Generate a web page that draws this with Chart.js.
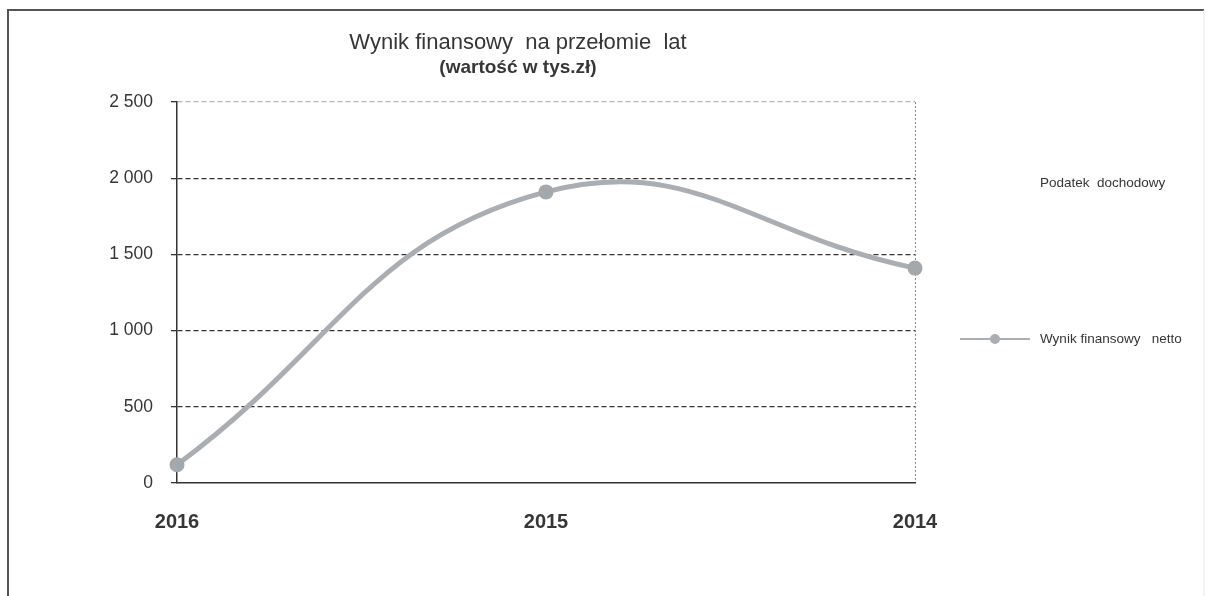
<!DOCTYPE html>
<html>
<head>
<meta charset="utf-8">
<script src="https://cdn.jsdelivr.net/npm/chart.js@4/dist/chart.umd.min.js"></script>
<style>
html, body { margin: 0; padding: 0; background: #fff; }
#wrap { width: 1207px; height: 596px; }
</style>
</head>
<body>
<div id="wrap"><canvas id="chart"></canvas></div>
<script>
const years = ["2016", "2015", "2014"];
const netResult = [120, 1910, 1410];
const incomeTax = [null, null, null];
const yTickValues = [0, 500, 1000, 1500, 2000, 2500];
const titleText = "Wynik finansowy  na przełomie  lat";
const subtitleText = "(wartość w tys.zł)";
const seriesNames = ["Podatek  dochodowy", "Wynik finansowy   netto"];

const lineGray = "#a9aeb2";
const textDark = "#363636";

function formatThousands(v) {
    return String(v).replace(/\B(?=(\d{3})+(?!\d))/g, " ");
}

// frame, titles and the legend on the right
const decorations = {
    id: "decorations",
    beforeDraw(chart) {
        const ctx = chart.ctx;
        ctx.save();
        ctx.strokeStyle = "#555";
        ctx.lineWidth = 2;
        ctx.beginPath();
        ctx.moveTo(8, 596);
        ctx.lineTo(8, 10);
        ctx.lineTo(1204, 10);
        ctx.stroke();
        ctx.strokeStyle = "#e6e6e6";
        ctx.lineWidth = 1;
        ctx.beginPath();
        ctx.moveTo(1204, 10);
        ctx.lineTo(1204, 596);
        ctx.stroke();
        ctx.restore();
    },
    afterDraw(chart) {
        const ctx = chart.ctx;
        const area = chart.chartArea;
        const cx = (area.left + area.right) / 2 - 28;
        ctx.save();
        ctx.fillStyle = textDark;
        ctx.textAlign = "center";
        ctx.textBaseline = "middle";
        ctx.font = "22px 'Liberation Sans', Arial, sans-serif";
        ctx.fillText(titleText, cx, 43);
        ctx.font = "bold 19px 'Liberation Sans', Arial, sans-serif";
        ctx.fillText(subtitleText, cx, 68);

        // legend
        const lx = area.right + 125;
        ctx.textAlign = "left";
        ctx.font = "13.5px 'Liberation Sans', Arial, sans-serif";
        ctx.fillText(seriesNames[0], lx, 183);
        ctx.fillText(seriesNames[1], lx, 339);
        ctx.strokeStyle = lineGray;
        ctx.lineWidth = 2;
        ctx.beginPath();
        ctx.moveTo(area.right + 45, 339);
        ctx.lineTo(area.right + 115, 339);
        ctx.stroke();
        ctx.fillStyle = lineGray;
        ctx.beginPath();
        ctx.arc(area.right + 80, 339, 5, 0, Math.PI * 2);
        ctx.fill();
        ctx.restore();
    }
};

new Chart(document.getElementById("chart"), {
    type: "line",
    data: {
        labels: years,
        datasets: [{
            label: seriesNames[0],
            data: incomeTax
        }, {
            label: seriesNames[1],
            data: netResult,
            borderColor: lineGray,
            backgroundColor: lineGray,
            borderWidth: 5,
            tension: 0.44,
            pointRadius: 7.5,
            pointHoverRadius: 7.5,
            pointBorderWidth: 0,
            pointBackgroundColor: "#a3a8ac",
            clip: false
        }]
    },
    options: {
        responsive: true,
        maintainAspectRatio: false,
        animation: false,
        layout: { padding: { left: 0, right: 292, top: 102, bottom: 53 } },
        plugins: {
            legend: { display: false },
            title: { display: false },
            tooltip: { enabled: false }
        },
        scales: {
            x: {
                offset: false,
                afterFit(scale) { scale.height = 60; },
                grid: {
                    drawTicks: false,
                    color: (c) => c.index === years.length - 1 ? "#8a8a8a" : "rgba(0,0,0,0)",
                    lineWidth: 1
                },
                border: { display: true, color: "#333", width: 1.5, dash: [2, 2] },
                ticks: {
                    padding: 27,
                    color: textDark,
                    font: { family: "'Liberation Sans', Arial, sans-serif", size: 20, weight: "bold" }
                }
            },
            y: {
                min: 0,
                max: 2500,
                afterFit(scale) { scale.width = 177; },
                afterBuildTicks(scale) { scale.ticks = yTickValues.map(v => ({ value: v })); },
                grid: {
                    drawTicks: true,
                    tickLength: 6,
                    tickColor: "#333",
                    lineWidth: 1.3,
                    color: (c) => {
                        if (c.tick && c.tick.value === 2500) return "#b5b5b5";
                        if (c.tick && c.tick.value === 0) return "rgba(0,0,0,0)";
                        return "#333";
                    }
                },
                border: { display: true, color: "#333", width: 1.5, dash: [5, 3] },
                ticks: {
                    padding: 18,
                    color: textDark,
                    font: { family: "'Liberation Sans', Arial, sans-serif", size: 17.5 },
                    callback: (v) => formatThousands(v)
                }
            }
        }
    },
    plugins: [decorations]
});
</script>
</body>
</html>
